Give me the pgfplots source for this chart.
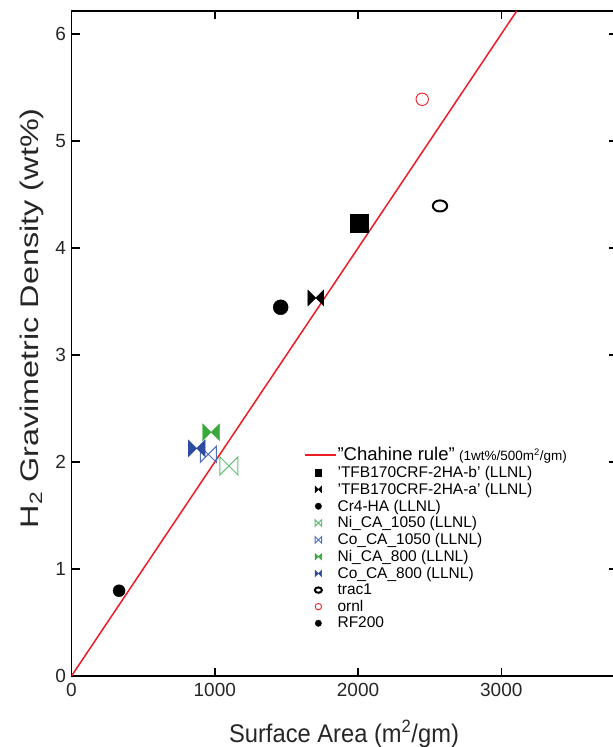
\documentclass[border=0pt]{standalone}
\usepackage{fontspec}
\setmainfont{Liberation Sans}
\newfontfamily\ylabfont{Liberation Sans}[FakeStretch=1.27]
\newfontfamily\xlabfont{Liberation Sans}[FakeStretch=0.93]
\usepackage{pgfplots}
\pgfplotsset{compat=1.18}

\definecolor{rline}{RGB}{237,28,36}
\definecolor{gfill}{RGB}{56,170,60}
\definecolor{gopen}{RGB}{100,190,120}
\definecolor{bfill}{RGB}{45,75,160}
\definecolor{bopen}{RGB}{80,110,190}

\pgfdeclareplotmark{bowtie}{%
 \pgfpathmoveto{\pgfqpoint{-\pgfplotmarksize}{-\pgfplotmarksize}}%
 \pgfpathlineto{\pgfqpoint{-\pgfplotmarksize}{\pgfplotmarksize}}%
 \pgfpathlineto{\pgfqpoint{0pt}{0pt}}%
 \pgfpathclose
 \pgfpathmoveto{\pgfqpoint{\pgfplotmarksize}{-\pgfplotmarksize}}%
 \pgfpathlineto{\pgfqpoint{\pgfplotmarksize}{\pgfplotmarksize}}%
 \pgfpathlineto{\pgfqpoint{0pt}{0pt}}%
 \pgfpathclose
 \pgfusepathqstroke}
\pgfdeclareplotmark{bowtie*}{%
 \pgfpathmoveto{\pgfqpoint{-\pgfplotmarksize}{-\pgfplotmarksize}}%
 \pgfpathlineto{\pgfqpoint{-\pgfplotmarksize}{\pgfplotmarksize}}%
 \pgfpathlineto{\pgfqpoint{0pt}{0pt}}%
 \pgfpathclose
 \pgfpathmoveto{\pgfqpoint{\pgfplotmarksize}{-\pgfplotmarksize}}%
 \pgfpathlineto{\pgfqpoint{\pgfplotmarksize}{\pgfplotmarksize}}%
 \pgfpathlineto{\pgfqpoint{0pt}{0pt}}%
 \pgfpathclose
 \pgfusepathqfillstroke}

\begin{document}
\begin{tikzpicture}
\begin{axis}[
  scale only axis,
  width=545pt, height=665pt,
  xmin=0, xmax=3804, ymin=0, ymax=6.215,
  xtick={0,1000,2000,3000}, ytick={0,1,2,3,4,5,6},
  tick align=inside,
  major tick length=8pt,
  tick style={line width=1.6pt, black},
  axis line style={line width=1.8pt},
  /pgf/number format/assume math mode=true,
  /pgf/number format/1000 sep={},
  ticklabel style={font=\fontsize{19}{19}\selectfont, text=black!85},
  xticklabel style={yshift=-4pt},
  yticklabel style={xshift=-2pt},
  xlabel={\xlabfont\fontsize{25.5}{25.5}\selectfont Surface Area (m\textsuperscript{2}/gm)},
  xlabel style={at={(axis description cs:0.5,0)}, anchor=base, yshift=-66pt, text=black!85},
  ylabel={\ylabfont\fontsize{25.5}{25.5}\selectfont H\textsubscript{2} Gravimetric Density (wt\%)},
  ylabel style={at={(axis description cs:-0.0609,0.538)}, anchor=base, rotate=0, text=black!85},
  legend cell align=left,
  legend style={fill=none, draw=none, inner sep=0pt,
    at={(axis description cs:0.4284,0.3474)}, anchor=north west,
    font=\fontsize{15.5}{15.5}\selectfont,
    /tikz/every even column/.append style={column sep=4pt},
    row sep=0.1pt},
  legend image code/.code={\draw[mark repeat=2,mark phase=2,#1] plot coordinates {(0pt,0pt) (13pt,0pt) (30pt,0pt)};},
  legend image post style={mark size=3.2pt},
]
\addlegendimage{legend image code/.code={\fill[rline] (0pt,-0.8pt) rectangle (30pt,0.8pt);}}
\addlegendentry{{\fontsize{18.5}{18.5}\selectfont "Chahine rule"} {\fontsize{13.5}{13.5}\selectfont(1wt\%/500m\textsuperscript{2}/gm)}}
\addplot[forget plot, draw=rline, line width=1.5pt] coordinates {(0,0) (3107.5,6.215)};
\addplot[only marks, mark=square*, mark size=9pt, black] coordinates {(2009,4.231)};
\addlegendentry{'TFB170CRF-2HA-b' (LLNL)}
\addplot[only marks, mark=bowtie*, mark size=8pt, black] coordinates {(1705,3.533)};
\addlegendentry{'TFB170CRF-2HA-a' (LLNL)}
\addplot[only marks, mark=*, mark size=7.5pt, black] coordinates {(1460,3.446)};
\addlegendentry{Cr4-HA (LLNL)}
\addplot[only marks, mark=bowtie, mark size=9pt, gopen, line width=1pt] coordinates {(1099,1.963)};
\addlegendentry{Ni\_CA\_1050 (LLNL)}
\addplot[only marks, mark=bowtie, mark size=8pt, bopen, line width=1pt] coordinates {(955,2.072)};
\addlegendentry{Co\_CA\_1050 (LLNL)}
\addplot[only marks, mark=bowtie*, mark size=8.5pt, gfill] coordinates {(974,2.278)};
\addlegendentry{Ni\_CA\_800 (LLNL)}
\addplot[only marks, mark=bowtie*, mark size=8.5pt, bfill] coordinates {(874,2.128)};
\addlegendentry{Co\_CA\_800 (LLNL)}
\addplot[only marks, mark=o, mark size=6.5pt, black, line width=2pt, mark options={xscale=1.1, yscale=0.85}] coordinates {(2572,4.393)};
\addlegendentry{trac1}
\addplot[only marks, mark=o, mark size=6.2pt, rline, line width=0.9pt] coordinates {(2448,5.39)};
\addlegendentry{ornl}
\addplot[only marks, mark=*, mark size=6pt, black] coordinates {(332,0.797)};
\addlegendentry{RF200}
\end{axis}
\pgfresetboundingbox
\path[use as bounding box] (-71.5pt,-71pt) rectangle (541.5pt,676pt);
\end{tikzpicture}
\end{document}
